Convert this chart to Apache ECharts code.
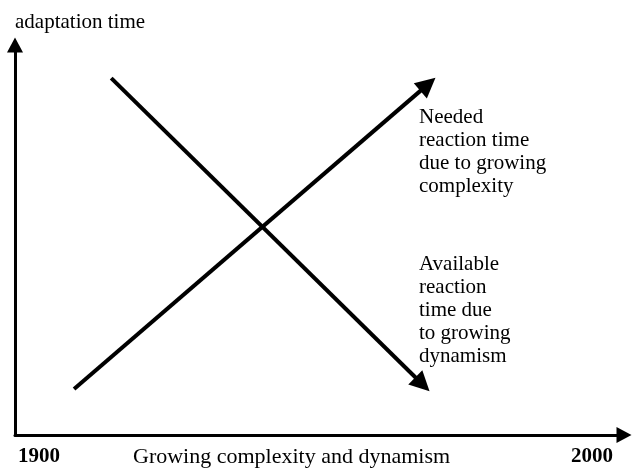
<!DOCTYPE html>
<html>
<head>
<meta charset="utf-8">
<script src="https://cdn.jsdelivr.net/npm/echarts@6/dist/echarts.min.js"></script>
<style>
  html, body { margin: 0; padding: 0; background: #fff; }
  #chart { width: 632px; height: 470px; }
</style>
</head>
<body>
<div id="chart"></div>
<script>
// x: year, y: relative adaptation time (0..100)
const yearRange = [1900, 2000];
const neededLine = [[1909.7, 11.8], [1967.8, 89.9]];
const availableLine = [[1915.8, 91.5], [1966.9, 13.0]];
const neededLabel = ['Needed', 'reaction time', 'due to growing', 'complexity'];
const availableLabel = ['Available', 'reaction', 'time due', 'to growing', 'dynamism'];
const xTitle = 'Growing complexity and dynamism';
const yTitle = 'adaptation time';

const FONT = 'Liberation Serif';

const AXIS_LINE = {
    show: true,
    symbol: ['none', 'triangle'],
    symbolSize: [16, 15],
    lineStyle: { color: '#000', width: 3 }
};

const chart = echarts.init(document.getElementById('chart'));

chart.setOption({
    animation: false,
    backgroundColor: '#fff',
    grid: { left: 15, right: 8, top: 45, bottom: 35 },
    xAxis: {
        type: 'value',
        min: yearRange[0],
        max: yearRange[1],
        interval: 100,
        axisLine: AXIS_LINE,
        axisTick: { show: false },
        splitLine: { show: false },
        axisLabel: {
            show: true,
            margin: 11,
            showMinLabel: true,
            showMaxLabel: true,
            alignMinLabel: 'left',
            alignMaxLabel: 'right',
            formatter: v => String(v),
            color: '#000',
            fontFamily: FONT,
            fontWeight: 'bold',
            fontSize: 21,
            padding: [0, 11, 0, 3]
        }
    },
    yAxis: {
        type: 'value',
        min: 0,
        max: 100,
        name: yTitle,
        nameLocation: 'end',
        nameGap: 12,
        nameTextStyle: {
            align: 'left',
            verticalAlign: 'bottom',
            color: '#000',
            fontFamily: FONT,
            fontSize: 21
        },
        axisLine: AXIS_LINE,
        axisTick: { show: false },
        axisLabel: { show: false },
        splitLine: { show: false }
    },
    graphic: [
        {
            type: 'text',
            left: 133,
            top: 446,
            style: { text: xTitle, fill: '#000', font: '22px "' + FONT + '"' }
        },
        {
            type: 'text',
            left: 419,
            top: 106,
            style: {
                text: neededLabel.join('\n'),
                fill: '#000',
                font: '21px "' + FONT + '"',
                lineHeight: 23
            }
        },
        {
            type: 'text',
            left: 419,
            top: 253,
            style: {
                text: availableLabel.join('\n'),
                fill: '#000',
                font: '21px "' + FONT + '"',
                lineHeight: 23
            }
        }
    ],
    series: [
        {
            type: 'lines',
            coordinateSystem: 'cartesian2d',
            symbol: ['none', 'triangle'],
            symbolSize: 20,
            lineStyle: { color: '#000', width: 4, opacity: 1 },
            data: [
                { name: 'needed', coords: neededLine },
                { name: 'available', coords: availableLine }
            ]
        }
    ]
});
</script>
</body>
</html>
